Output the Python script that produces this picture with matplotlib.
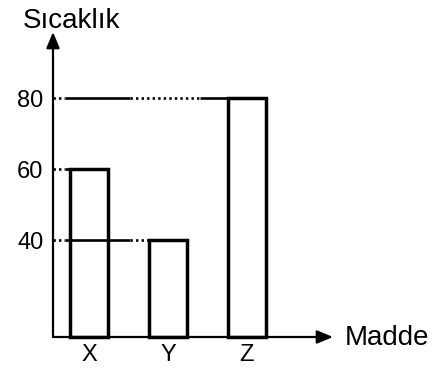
import matplotlib
matplotlib.use("Agg")
import matplotlib.pyplot as plt

# Data
categories = ["X", "Y", "Z"]
temperatures = [60, 40, 80]
y_ticks = [40, 60, 80]
y_title = "Sıcaklık"
x_title = "Madde"

plt.rcParams["font.family"] = ["Liberation Sans", "DejaVu Sans"]

W, H = 434, 368
fig = plt.figure(figsize=(W / 100, H / 100), dpi=100)

# axes box: origin at the arrow corner, extends to the arrow tips
left_px, right_px, bottom_px, top_px = 53, 333, 337, 32
ax = fig.add_axes([left_px / W, 1 - bottom_px / H,
                   (right_px - left_px) / W, (bottom_px - top_px) / H])

y_min, y_max = 12.7, 98.6
x_min, x_max = -0.456, 3.089
ax.set_xlim(x_min, x_max)
ax.set_ylim(y_min, y_max)

for s in ax.spines.values():
    s.set_visible(False)

# axes drawn as arrows
arrow = dict(arrowstyle="-|>,head_length=0.6,head_width=0.25",
             color="black", lw=1.6, shrinkA=0, shrinkB=0, mutation_scale=16)
ax.annotate("", xy=(0, 1), xytext=(0, 0), xycoords="axes fraction",
            textcoords="axes fraction", arrowprops=arrow, annotation_clip=False)
ax.annotate("", xy=(1, 0), xytext=(0, 0), xycoords="axes fraction",
            textcoords="axes fraction", arrowprops=arrow, annotation_clip=False)

bar_width = 0.48
xs = list(range(len(categories)))

# guide lines from the y axis to each bar, alternating dotted / solid pieces
breaks = [x_min, -0.30, 0.52, 1.40, 10.0]
for xi, v in zip(xs, temperatures):
    end = xi - bar_width / 2
    for i in range(len(breaks) - 1):
        a, b = breaks[i], min(breaks[i + 1], end)
        if b <= a:
            break
        dotted = (i % 2 == 0)
        ax.plot([a, b], [v, v], color="black", lw=1.9,
                linestyle=(0, (0.9, 1.2)) if dotted else "-",
                solid_capstyle="butt", clip_on=False, zorder=2)

ax.bar(xs, [v - y_min for v in temperatures], bottom=y_min, width=bar_width,
       fill=False, edgecolor="black", linewidth=2.5, clip_on=False, zorder=3)

ax.set_yticks(y_ticks)
ax.set_yticklabels([str(t) for t in y_ticks], fontsize=17)
ax.set_xticks(xs)
ax.set_xticklabels(categories, fontsize=17)
ax.tick_params(axis="y", length=0, pad=7)
ax.tick_params(axis="x", length=0, pad=5)

fig.text(23 / W, 1 - 28 / H, y_title, fontsize=20, ha="left", va="baseline")
fig.text(345 / W, 1 - 345 / H, x_title, fontsize=20, ha="left", va="baseline")

fig.savefig("out.png", dpi=100, facecolor="white")
